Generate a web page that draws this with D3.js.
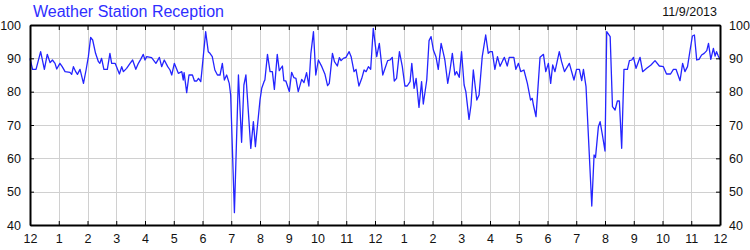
<!DOCTYPE html>
<html lang="en">
<head>
<meta charset="utf-8">
<script src="https://d3js.org/d3.v7.min.js"></script>
<style>
  body { margin: 0; background: white; }
  svg { font-family: 'Liberation Sans', Arial, sans-serif; display: block; }
  .grid line { stroke: #d0d0d0; stroke-width: 1px; shape-rendering: crispEdges; }
  .axis path, .axis line { stroke: #000; }
  .axis path { stroke-width: 2px; }
  .axis text { font-size: 12.5px; fill: #111; }
</style>
</head>
<body>
<svg width="750" height="250"></svg>
<script>
// reception samples: hour of day (0-24) and value (%)
const hours = [
  0.00, 0.09, 0.21, 0.37, 0.50, 0.60, 0.70, 0.78, 0.87, 0.93,
  1.04, 1.12, 1.22, 1.39, 1.45, 1.51, 1.59, 1.65, 1.74, 1.86, 1.95,
  2.03, 2.11, 2.18, 2.28, 2.38, 2.43, 2.49, 2.57, 2.69, 2.78, 2.84, 2.96,
  3.01, 3.11, 3.19, 3.25, 3.36, 3.48, 3.57, 3.68, 3.77, 3.85, 3.94,
  4.00, 4.06, 4.23, 4.38, 4.50, 4.58, 4.67, 4.79, 4.87, 4.93,
  5.02, 5.16, 5.28, 5.33, 5.36, 5.45, 5.53, 5.65, 5.72, 5.80, 5.86, 5.94, 5.97,
  6.11, 6.20, 6.26, 6.34, 6.43, 6.52, 6.61, 6.69, 6.76, 6.84, 6.93, 6.98,
  7.11, 7.25, 7.36, 7.44, 7.51, 7.68, 7.77, 7.84,
  8.00, 8.06, 8.14, 8.17, 8.26, 8.35, 8.43, 8.50, 8.60, 8.67, 8.78, 8.83, 8.90,
  9.02, 9.10, 9.18, 9.25, 9.33, 9.45, 9.53, 9.62, 9.70, 9.77, 9.86, 9.94,
  10.03, 10.15, 10.26, 10.35, 10.41, 10.52, 10.59, 10.69, 10.76, 10.82, 10.90, 10.99,
  11.10, 11.17, 11.27, 11.34, 11.44, 11.54, 11.62, 11.69, 11.77, 11.85, 11.94,
  12.06, 12.15, 12.27, 12.35, 12.44, 12.52, 12.60, 12.67, 12.75, 12.85, 12.95,
  13.04, 13.12, 13.22, 13.28, 13.36, 13.43, 13.53, 13.62, 13.68, 13.80, 13.88, 13.95,
  14.03, 14.12, 14.20, 14.30, 14.38, 14.43, 14.53, 14.61, 14.69, 14.78, 14.84, 14.93,
  15.01, 15.10, 15.16, 15.27, 15.34, 15.42, 15.54, 15.62, 15.73, 15.85, 15.94,
  16.00, 16.08, 16.17, 16.26, 16.35, 16.44, 16.50, 16.60, 16.67, 16.83, 16.90, 16.99,
  17.07, 17.18, 17.30, 17.41, 17.47, 17.51, 17.60, 17.74, 17.86, 17.94,
  18.03, 18.11, 18.18, 18.26, 18.41, 18.49, 18.59, 18.76, 18.92,
  19.01, 19.11, 19.19, 19.25, 19.34, 19.54, 19.62, 19.67, 19.77, 19.83, 19.91,
  20.00, 20.06, 20.18, 20.26, 20.35, 20.43, 20.50, 20.58, 20.66, 20.78, 20.85, 20.93, 20.99,
  21.08, 21.22, 21.31, 21.45, 21.60, 21.74, 21.89,
  22.03, 22.14, 22.28, 22.38, 22.47, 22.61, 22.70, 22.78, 22.87, 22.96,
  23.04, 23.11, 23.19, 23.27, 23.36, 23.45, 23.54, 23.60, 23.68, 23.77, 23.83, 23.88, 23.94,
  24.00
];
const reception = [
  90, 86.7, 86.7, 92, 86.7, 91.2, 88.7, 89.5, 88.5, 86.8,
  88.5, 87.5, 86, 85.8, 85.2, 87.5, 86, 85.2, 86.7, 82.5, 86.5,
  90.5, 96.3, 95.5, 91.5, 89, 88.5, 90, 86.7, 86.7, 91.5, 88.5, 88.5,
  87.5, 85.3, 87.5, 86, 87, 88.5, 89.5, 86.7, 88.5, 89.7, 91.2,
  89.5, 90.5, 90.2, 88.5, 90.3, 87.5, 89.5, 87.5, 86.5, 85,
  88.5, 85.5, 86, 83.5, 85.7, 79.7, 85, 85, 83.2, 83.2, 84, 83, 85.5,
  98, 92, 91.5, 90.5, 86.5, 85, 85, 88.5, 83.5, 85, 82.5, 79,
  43.7, 85, 64.8, 82, 85, 63, 71, 63.5,
  77.5, 81, 83, 83.5, 91.2, 86, 86, 80.7, 91.2, 86.3, 87.7, 83.3, 83.2,
  80, 85.8, 84.2, 84, 80, 83.7, 82.7, 85.7, 81.7, 91.5, 98, 85,
  89.5, 87.5, 85.2, 81.8, 82.5, 91.5, 89, 87.7, 90.2, 89.3, 90, 90.3,
  92, 90.5, 86, 86.7, 81.7, 84, 86.5, 86, 87.5, 86.7, 99,
  90.5, 94.5, 85, 87, 89.3, 89.5, 90.3, 83.2, 84, 92, 87.5,
  81.7, 81.7, 83, 88.5, 81, 84, 75.3, 83, 76.3, 83.5, 95.3, 96.5,
  92.5, 90.5, 86.7, 94.5, 91.5, 89.5, 82.5, 86.5, 91.5, 85, 86, 84.3,
  92, 82, 80, 71.7, 76, 86.5, 77.5, 79, 90.5, 97, 91.5,
  92, 92, 86.7, 90.5, 87.6, 89.3, 90.3, 87.7, 90.3, 90.3, 86.7, 88.5,
  86, 86.5, 82.5, 77.5, 78, 76, 72.5, 90.3, 91.2, 86,
  88.5, 82.5, 88, 86, 92, 89, 86, 88.5, 83.5,
  86.7, 86.7, 83.3, 86.7, 81.5, 45.7, 61, 60.3, 69.5, 71, 67,
  62.2, 98, 96.5, 75.5, 74.5, 77.2, 77.2, 63, 86.7, 86.7, 89.3, 89.5, 90.3,
  87, 90.3, 86, 87, 88, 89.3, 87.7,
  87.5, 85.3, 85.3, 86.7, 86.7, 83.3, 88.5, 86, 87.5, 92.5,
  96.7, 97, 89.5, 89.7, 91, 91.5, 92.3, 94.5, 89.7, 93, 90.7, 92, 90.7,
  89.7
];
const hourTicks = d3.range(0, 25);
const valueTicks = [40, 50, 60, 70, 80, 90, 100];
const title = "Weather Station Reception";
const dateLabel = "11/9/2013";

const svg = d3.select("svg");
const margin = { left: 30, right: 720, top: 25, bottom: 225 };

const x = d3.scaleLinear().domain([0, 24]).range([margin.left, margin.right]);
const y = d3.scaleLinear().domain([40, 100]).range([margin.bottom, margin.top]);

// grid
const grid = svg.append("g").attr("class", "grid");
grid.selectAll(".v").data(hourTicks.slice(1, -1)).enter().append("line")
  .attr("x1", d => Math.round(x(d)) + 0.5).attr("x2", d => Math.round(x(d)) + 0.5)
  .attr("y1", margin.top).attr("y2", margin.bottom);
grid.selectAll(".h").data(valueTicks.slice(1, -1)).enter().append("line")
  .attr("y1", d => Math.round(y(d)) + 0.5).attr("y2", d => Math.round(y(d)) + 0.5)
  .attr("x1", margin.left).attr("x2", margin.right);

// line
const line = d3.line().x((d, i) => x(hours[i])).y(d => y(d));
svg.append("path")
  .datum(reception)
  .attr("fill", "none")
  .attr("stroke", "#2424ff")
  .attr("stroke-width", 1.3)
  .attr("stroke-linejoin", "round")
  .attr("d", line);

// axes, ticks pointing inward
const fmt = d => (d % 12) || 12;
svg.append("g").attr("class", "axis")
  .attr("transform", `translate(0,${margin.bottom})`)
  .call(d3.axisBottom(x).tickValues(hourTicks).tickFormat(fmt).tickSize(-4).tickSizeOuter(0).tickPadding(9));
svg.append("g").attr("class", "axis")
  .attr("transform", `translate(0,${margin.top})`)
  .call(d3.axisTop(x).tickValues(hourTicks).tickFormat("").tickSize(-5).tickSizeOuter(0));
svg.append("g").attr("class", "axis")
  .attr("transform", `translate(${margin.left},0)`)
  .call(d3.axisLeft(y).tickValues(valueTicks).tickSize(-4).tickSizeOuter(0).tickPadding(9));
svg.append("g").attr("class", "axis")
  .attr("transform", `translate(${margin.right},0)`)
  .call(d3.axisRight(y).tickValues(valueTicks).tickSize(-4).tickSizeOuter(0).tickPadding(9));

svg.selectAll(".axis").attr("font-family", null).attr("font-size", null);

// titles
svg.append("text")
  .attr("x", 33).attr("y", 17)
  .attr("font-size", 16)
  .attr("fill", "#2e2eff")
  .text(title);
svg.append("text")
  .attr("x", 717).attr("y", 16)
  .attr("text-anchor", "end")
  .attr("font-size", 12.5)
  .attr("fill", "#111")
  .text(dateLabel);
</script>
</body>
</html>
